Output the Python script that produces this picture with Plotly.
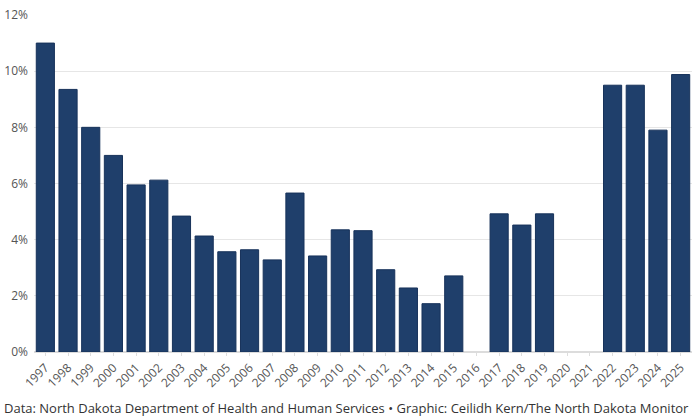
import plotly.graph_objects as go

years = [str(y) for y in range(1997, 2026)]
rates = [11.0, 9.35, 8.0, 7.0, 5.95, 6.12, 4.84, 4.13, 3.57, 3.64, 3.28, 5.66,
         3.42, 4.35, 4.32, 2.93, 2.28, 1.72, 2.71, None, 4.92, 4.52, 4.92,
         None, None, 9.5, 9.5, 7.9, 9.88]
y_ticks = [0, 2, 4, 6, 8, 10, 12]
footer = "Data: North Dakota Department of Health and Human Services \u2022 Graphic: Ceilidh Kern/The North Dakota Monitor"

W, H = 696, 420
ml, mr, mt, mb = 34, 4, 15, 68
pw, ph = W - ml - mr, H - mt - mb

fig = go.Figure(go.Bar(
    x=years, y=rates,
    marker=dict(color="#1f3f6b", line=dict(color="#17325a", width=1)),
    width=0.8,
))

fig.update_layout(
    width=W, height=H,
    margin=dict(l=ml, r=mr, t=mt, b=mb),
    paper_bgcolor="white", plot_bgcolor="white",
    font=dict(family="'Open Sans', Lato, sans-serif", color="#555"),
    showlegend=False,
    xaxis=dict(
        type="category", tickangle=-45, tickfont=dict(size=12, color="#555"),
        ticks="outside", ticklen=3, tickcolor="#ddd", showgrid=False,
        showline=False, range=[-0.5, len(years) - 0.5],
    ),
    yaxis=dict(
        range=[0, 12], tickvals=y_ticks, ticktext=[f"{v}%" for v in y_ticks],
        tickfont=dict(size=12, color="#555"), showgrid=True, gridcolor="#e6e6e6",
        gridwidth=1, zeroline=True, zerolinecolor="#dcdcdc", ticks="",
        ticklabelstandoff=5,
    ),
    annotations=[dict(
        text=footer, xref="paper", yref="paper",
        x=(2 - ml) / pw, y=(mt + ph - 408) / ph,
        xanchor="left", yanchor="middle", showarrow=False,
        font=dict(size=13, color="#333"),
    )],
)

fig.write_html("out.html")
